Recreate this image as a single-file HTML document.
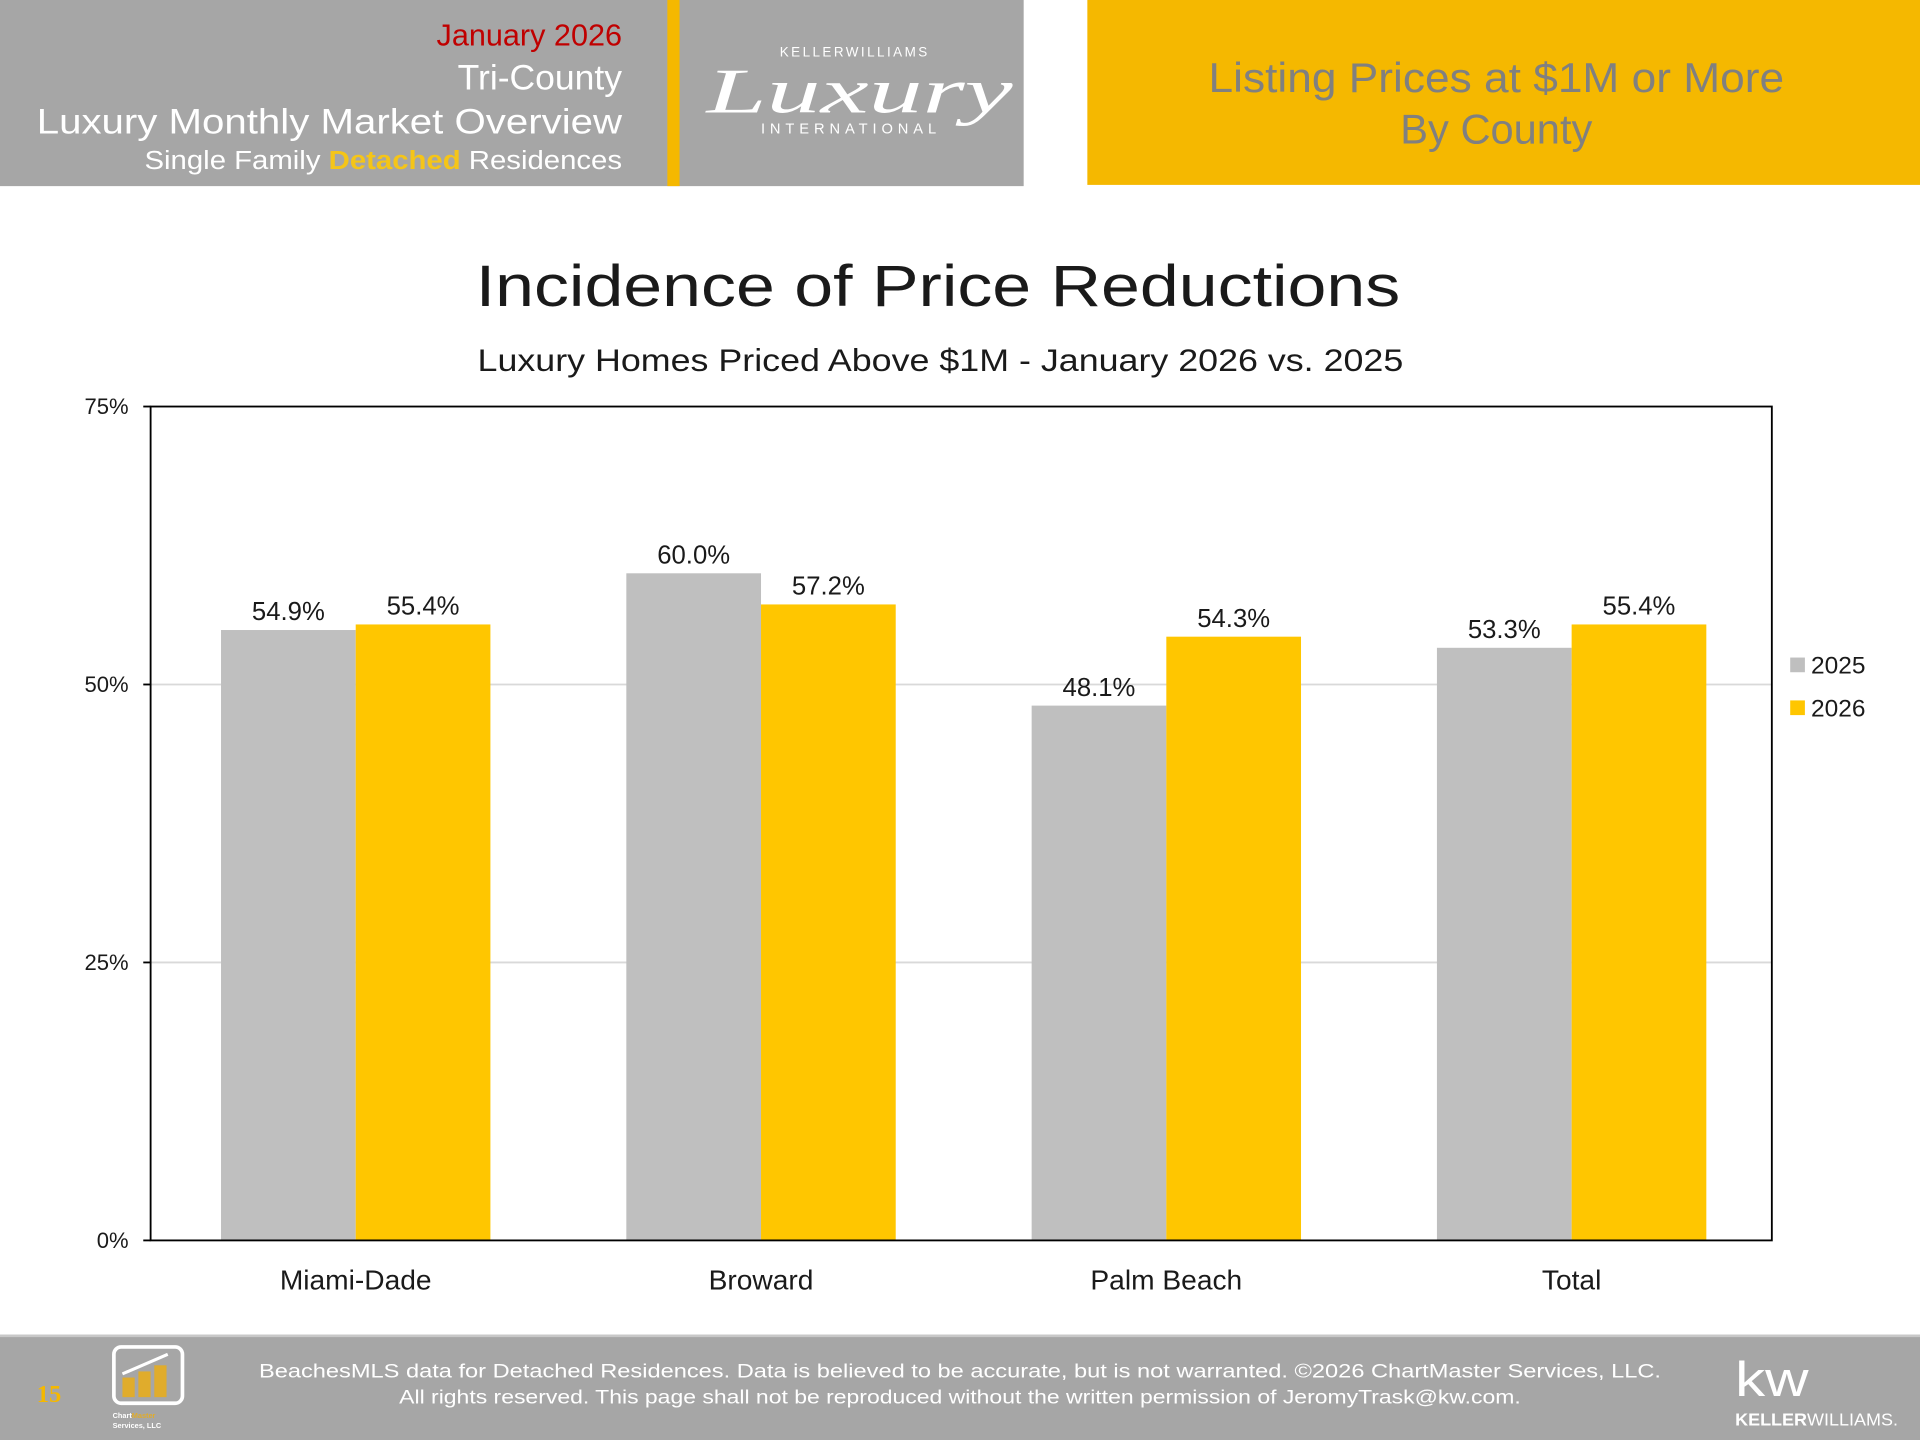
<!DOCTYPE html>
<html><head><meta charset="utf-8"><style>
html,body{margin:0;padding:0;background:#fff;}
svg{display:block;font-family:"Liberation Sans",sans-serif;}
</style></head><body>
<svg id="chart" width="1920" height="1440" viewBox="0 0 1568 1176" xmlns="http://www.w3.org/2000/svg">
  <!-- Header -->
  <rect x="0" y="0" width="836" height="152" fill="#a6a6a6"/>
  <rect x="545" y="0" width="10" height="152" fill="#f5b800"/>
  <text x="508" y="37" text-anchor="end" font-size="25" fill="#c00000">January 2026</text>
  <text x="508" y="73" text-anchor="end" font-size="29" fill="#fff">Tri-County</text>
  <text x="508" y="109" text-anchor="end" font-size="29" fill="#fff" textLength="478" lengthAdjust="spacingAndGlyphs">Luxury Monthly Market Overview</text>
  <text x="508" y="138" text-anchor="end" font-size="21" fill="#fff" textLength="390" lengthAdjust="spacingAndGlyphs">Single Family <tspan fill="#f5c518" font-weight="bold">Detached</tspan> Residences</text>
  <g>
    <text x="698" y="46" text-anchor="middle" font-size="11" fill="#fff" letter-spacing="2">KELLERWILLIAMS</text>
    <text x="702" y="92" text-anchor="middle" font-size="52" fill="#fff" font-family="'Liberation Serif',serif" font-style="italic" textLength="250" lengthAdjust="spacingAndGlyphs">Luxury</text>
    <text x="695" y="109" text-anchor="middle" font-size="12" fill="#fff" letter-spacing="4">INTERNATIONAL</text>
  </g>
  <rect x="888" y="0" width="680" height="151" fill="#f5b800"/>
  <text x="1222" y="75" text-anchor="middle" font-size="34" fill="#808080" textLength="470" lengthAdjust="spacingAndGlyphs">Listing Prices at $1M or More</text>
  <text x="1222" y="117" text-anchor="middle" font-size="34" fill="#808080">By County</text>

  <!-- Titles -->
  <text x="766" y="250" text-anchor="middle" font-size="48" fill="#1a1a1a" textLength="755" lengthAdjust="spacingAndGlyphs">Incidence of Price Reductions</text>
  <text x="768" y="303" text-anchor="middle" font-size="26" fill="#1a1a1a" textLength="756" lengthAdjust="spacingAndGlyphs">Luxury Homes Priced Above $1M - January 2026 vs. 2025</text>

  <g id="plot"></g>

  <!-- Legend -->
  <rect x="1462" y="537" width="12" height="12" fill="#bfbfbf"/>
  <text x="1479" y="550" font-size="20" fill="#1a1a1a">2025</text>
  <rect x="1462" y="572" width="12" height="12" fill="#ffc600"/>
  <text x="1479" y="585" font-size="20" fill="#1a1a1a">2026</text>

  <!-- Footer -->
  <rect x="0" y="1090" width="1568" height="86" fill="#a6a6a6"/>
  <rect x="0" y="1090" width="1568" height="2" fill="#c8c8c8"/>
  <text x="30" y="1145" font-size="20" font-weight="bold" fill="#f5b800" font-family="'Liberation Serif',serif">15</text>
  <g>
    <rect x="93" y="1100" width="56" height="46" rx="6" fill="none" stroke="#fff" stroke-width="3"/>
    <rect x="100" y="1125" width="10" height="16" fill="#e0ac2c"/>
    <rect x="113" y="1120" width="10" height="21" fill="#e0ac2c"/>
    <rect x="126" y="1115" width="10" height="26" fill="#e0ac2c"/>
    <path d="M100 1122 L137 1106" stroke="#fff" stroke-width="2.5"/>
    <text x="92" y="1158" font-size="6" fill="#fff" font-weight="bold">Chart<tspan fill="#e0ac2c">Master</tspan></text>
    <text x="92" y="1166" font-size="6" fill="#fff" font-weight="bold">Services, LLC</text>
  </g>
  <text x="784" y="1125" text-anchor="middle" font-size="16" fill="#fff" textLength="1145" lengthAdjust="spacingAndGlyphs">BeachesMLS data for Detached Residences.  Data is believed to be accurate, but is not warranted.   ©2026  ChartMaster Services, LLC.</text>
  <text x="784" y="1146" text-anchor="middle" font-size="16" fill="#fff" textLength="916" lengthAdjust="spacingAndGlyphs">All rights reserved. This page shall not be reproduced without the written permission of JeromyTrask@kw.com.</text>
  <g>
    <text x="1417" y="1140" font-size="40" fill="#fff" textLength="60" lengthAdjust="spacingAndGlyphs">kw</text>
    <text x="1417" y="1164" font-size="14" fill="#fff" textLength="133" lengthAdjust="spacingAndGlyphs"><tspan font-weight="bold">KELLER</tspan>WILLIAMS.</text>
  </g>
</svg>
<script>
const categories = ["Miami-Dade", "Broward", "Palm Beach", "Total"];
const values2025 = [54.9, 60.0, 48.1, 53.3];
const values2026 = [55.4, 57.2, 54.3, 55.4];
const yTicks = [0, 25, 50, 75];
const yTickLabels = ["0%", "25%", "50%", "75%"];

const NS = "http://www.w3.org/2000/svg";
const plot = document.getElementById("plot");
const X0 = 123, X1 = 1447, Y0 = 1013, Y1 = 332, YMAX = 75;
const yScale = v => Y0 - (v / YMAX) * (Y0 - Y1);
const band = (X1 - X0) / categories.length;
const xCenter = i => X0 + band * (i + 0.5) + 2;
const BW = 110;
function mk(tag, attrs, text) {
  const e = document.createElementNS(NS, tag);
  for (const k in attrs) e.setAttribute(k, attrs[k]);
  if (text !== undefined) e.textContent = text;
  plot.appendChild(e);
  return e;
}
yTicks.forEach((t, i) => {
  const y = yScale(t);
  if (t > 0 && t < YMAX) {
    const g = mk("line", {x1: X0, x2: X1, y1: y, y2: y, stroke: "#d9d9d9", "stroke-width": 1.5});
    
    
  }
  const tk = mk("line", {x1: X0 - 6, x2: X0, y1: y, y2: y, stroke: "#000", "stroke-width": 1.5});
  
  
  const lb = mk("text", {x: 105, y: y + 6, "text-anchor": "end", "font-size": 18, fill: "#1a1a1a"}, yTickLabels[i]);
  
  
});
function drawBar(i, v, off, color, series) {
  const x = xCenter(i) + off;
  const y = yScale(v);
  const r = mk("rect", {x: x, y: y, width: BW, height: Y0 - y, fill: color});
  
  
  const t = mk("text", {x: x + BW / 2, y: y - 8, "text-anchor": "middle", "font-size": 21, fill: "#1a1a1a"}, v.toFixed(1) + "%");
  
  
}
categories.forEach((c, i) => {
  drawBar(i, values2025[i], -BW, "#bfbfbf", "2025");
  drawBar(i, values2026[i], 0, "#ffc600", "2026");
  const t = mk("text", {x: xCenter(i), y: 1053, "text-anchor": "middle", "font-size": 23, fill: "#1a1a1a"}, c);
  
  
});
const frame = mk("rect", {x: X0, y: Y1, width: X1 - X0, height: Y0 - Y1, fill: "none", stroke: "#000", "stroke-width": 1.5});


</script>
</body></html>
